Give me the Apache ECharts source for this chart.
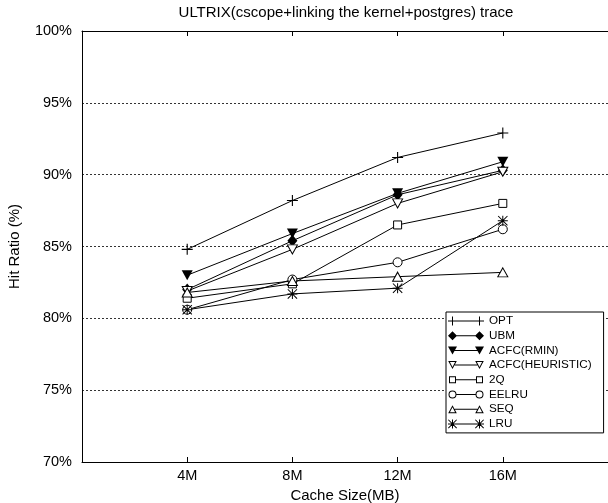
<!DOCTYPE html>
<html>
<head>
<meta charset="utf-8">
<script src="https://cdn.jsdelivr.net/npm/echarts@6/dist/echarts.min.js"></script>
<style>
  html, body { margin: 0; padding: 0; background: #fff; }
  #chart { width: 608px; height: 503px; }
</style>
</head>
<body>
<div id="chart"></div>
<script>
// cache sizes (MB) on the x axis
var cacheSizes = [4, 8, 12, 16];
var seriesNames = ['OPT', 'UBM', 'ACFC(RMIN)', 'ACFC(HEURISTIC)', '2Q', 'EELRU', 'SEQ', 'LRU'];

// hit ratio (%) per policy
var optHits   = [84.8, 88.2, 91.2, 92.9];
var ubmHits   = [82.0, 85.4, 88.6, 90.3];
var rminHits  = [83.0, 85.9, 88.7, 90.9];
var heurHits  = [81.9, 84.8, 88.0, 90.2];
var twoQHits  = [81.4, 82.4, 86.5, 88.0];
var eelruHits = [80.6, 82.7, 83.9, 86.2];
var seqHits   = [81.8, 82.6, 82.9, 83.2];
var lruHits   = [80.6, 81.7, 82.1, 86.8];

var yTicks = [70, 75, 80, 85, 90, 95, 100];

var FONT = 'Liberation Sans, Arial, sans-serif';

// marker shapes for the plot
var CROSS = 'path://M4.5,0h1v4.5h4.5v1h-4.5v4.5h-1v-4.5h-4.5v-1h4.5Z';
var DOWN_TRI = 'path://M0,0L10,0L5,9Z';
var STAR = 'path://M4.5,0h1v4.5h4.5v1h-4.5v4.5h-1v-4.5h-4.5v-1h4.5Z' +
           'M0.7,0L10,9.3L9.3,10L0,0.7Z M9.3,0L10,0.7L0.7,10L0,9.3Z';

// --- legend icons: a line with a marker at each end (36 x 9 box) ---
function poly(pts, ox) {
    return 'M' + pts.map(function (p) { return (p[0] + ox) + ',' + p[1]; }).join('L') + 'Z';
}
function twice(fn) { return fn(0) + fn(27); }
function seg(a, b) { return poly([[a, 4], [b, 4], [b, 5], [a, 5]], 0); }
var ANCHOR = 'M0,0L0.01,0L0,0.01Z M36,9L35.99,9L36,8.99Z';

var icCross = function (o) {
    return poly([[4, 0], [5, 0], [5, 4], [9, 4], [9, 5], [5, 5], [5, 9], [4, 9], [4, 5], [0, 5], [0, 4], [4, 4]], o);
};
var icDiag = function (o) {
    return poly([[0.7, 0], [9, 8.3], [8.3, 9], [0, 0.7]], o) + poly([[8.3, 0], [9, 0.7], [0.7, 9], [0, 8.3]], o);
};
var icDiamond = function (o) { return poly([[4.5, 0], [9, 4.5], [4.5, 9], [0, 4.5]], o); };
var icDownTri = function (o) { return poly([[0, 0.5], [9, 0.5], [4.5, 8.5]], o); };
var icDownTriHollow = function (o) {
    return poly([[0.2, 0.5], [8.8, 0.5], [4.5, 8.5]], o) + poly([[1.9, 1.5], [4.5, 6.4], [7.1, 1.5]], o);
};
var icUpTriHollow = function (o) {
    return poly([[4.5, 0.5], [8.8, 8.5], [0.2, 8.5]], o) + poly([[4.5, 2.6], [1.9, 7.5], [7.1, 7.5]], o);
};
var icSquareHollow = function (o) {
    return poly([[1, 1], [8, 1], [8, 8], [1, 8]], o) + poly([[2, 2], [2, 7], [7, 7], [7, 2]], o);
};
var icCircleHollow = function (o) {
    return 'M' + (o + 0.5) + ',4.5A4,4 0 1,1 ' + (o + 8.5) + ',4.5A4,4 0 1,1 ' + (o + 0.5) + ',4.5Z' +
           'M' + (o + 1.5) + ',4.5A3,3 0 1,0 ' + (o + 7.5) + ',4.5A3,3 0 1,0 ' + (o + 1.5) + ',4.5Z';
};

var legendIcons = {
    'OPT': twice(icCross) + seg(5, 31),
    'UBM': twice(icDiamond) + seg(5, 31),
    'ACFC(RMIN)': twice(icDownTri) + seg(5, 31),
    'ACFC(HEURISTIC)': twice(icDownTriHollow) + seg(6.7, 29.3),
    '2Q': twice(icSquareHollow) + seg(8, 28),
    'EELRU': twice(icCircleHollow) + seg(8.5, 27.5),
    'SEQ': twice(icUpTriHollow) + seg(6.7, 29.3),
    'LRU': twice(icCross) + twice(icDiag) + seg(5, 31)
};

function pairs(vals) {
    return vals.map(function (v, i) { return [cacheSizes[i], v]; });
}

var filled = {color: '#000', borderWidth: 0};
var hollow = {color: '#fff', borderColor: '#000', borderWidth: 1};

function mk(name, vals, symbol, size, style) {
    return {
        name: name,
        type: 'line',
        data: pairs(vals),
        symbol: symbol,
        symbolSize: size,
        showAllSymbol: true,
        lineStyle: {color: '#000', width: 1},
        itemStyle: style,
        emphasis: {disabled: true},
        animation: false
    };
}

var myChart = echarts.init(document.getElementById('chart'));
myChart.setOption({
    backgroundColor: '#fff',
    animation: false,
    title: {
        text: 'ULTRIX(cscope+linking the kernel+postgres) trace',
        left: 341,
        textAlign: 'center',
        top: 0,
        textStyle: {fontFamily: FONT, fontSize: 15, fontWeight: 'normal', color: '#000'}
    },
    grid: {left: 82, right: 0, top: 31, bottom: 41, containLabel: false, outerBoundsMode: 'none'},
    legend: {
        orient: 'vertical',
        left: 446,
        top: 312,
        data: seriesNames.map(function (n) {
            return {
                name: n,
                icon: 'path://' + ANCHOR + legendIcons[n],
                itemStyle: {color: '#000', borderWidth: 0}
            };
        }),
        itemWidth: 36,
        itemHeight: 9,
        itemGap: 2.7,
        padding: [3, 12, 3, 2],
        borderColor: '#000',
        borderWidth: 1,
        backgroundColor: '#fff',
        textStyle: {fontFamily: FONT, fontSize: 11.7, color: '#000', lineHeight: 12}
    },
    xAxis: [{
        type: 'value',
        min: 0,
        max: 20,
        interval: 4,
        name: 'Cache Size(MB)',
        nameLocation: 'middle',
        nameGap: 21,
        nameTextStyle: {fontFamily: FONT, fontSize: 15, color: '#000'},
        axisLine: {lineStyle: {color: '#000', width: 1}},
        axisTick: {inside: true, length: 5, lineStyle: {color: '#000'}},
        axisLabel: {
            fontFamily: FONT, fontSize: 14.5, color: '#000', margin: 6,
            formatter: function (v) { return (v > 0 && v < 20) ? v + 'M' : ''; }
        },
        splitLine: {show: false}
    }, {
        type: 'value',
        position: 'top',
        min: 0,
        max: 20,
        interval: 4,
        axisLine: {lineStyle: {color: '#000', width: 1}},
        axisTick: {inside: true, length: 5, lineStyle: {color: '#000'}},
        axisLabel: {show: false},
        splitLine: {show: false}
    }],
    yAxis: {
        type: 'value',
        min: yTicks[0],
        max: yTicks[yTicks.length - 1],
        interval: 5,
        name: 'Hit Ratio (%)',
        nameLocation: 'middle',
        nameGap: 60,
        nameTextStyle: {fontFamily: FONT, fontSize: 15, color: '#000'},
        axisLine: {show: true, lineStyle: {color: '#000', width: 1}},
        axisTick: {show: false},
        axisLabel: {fontFamily: FONT, fontSize: 14.5, color: '#000', margin: 10, formatter: '{value}%'},
        splitLine: {show: true, lineStyle: {color: '#333', type: [2, 2], width: 1}}
    },
    series: [
        mk('OPT', optHits, CROSS, 11, filled),
        mk('UBM', ubmHits, 'diamond', [10, 12], filled),
        mk('ACFC(RMIN)', rminHits, DOWN_TRI, [11, 10], filled),
        mk('ACFC(HEURISTIC)', heurHits, DOWN_TRI, [10, 9], hollow),
        mk('2Q', twoQHits, 'rect', 8, hollow),
        mk('EELRU', eelruHits, 'circle', 9, hollow),
        mk('SEQ', seqHits, 'triangle', [10, 9], hollow),
        mk('LRU', lruHits, STAR, 10, filled)
    ]
});
</script>
</body>
</html>
